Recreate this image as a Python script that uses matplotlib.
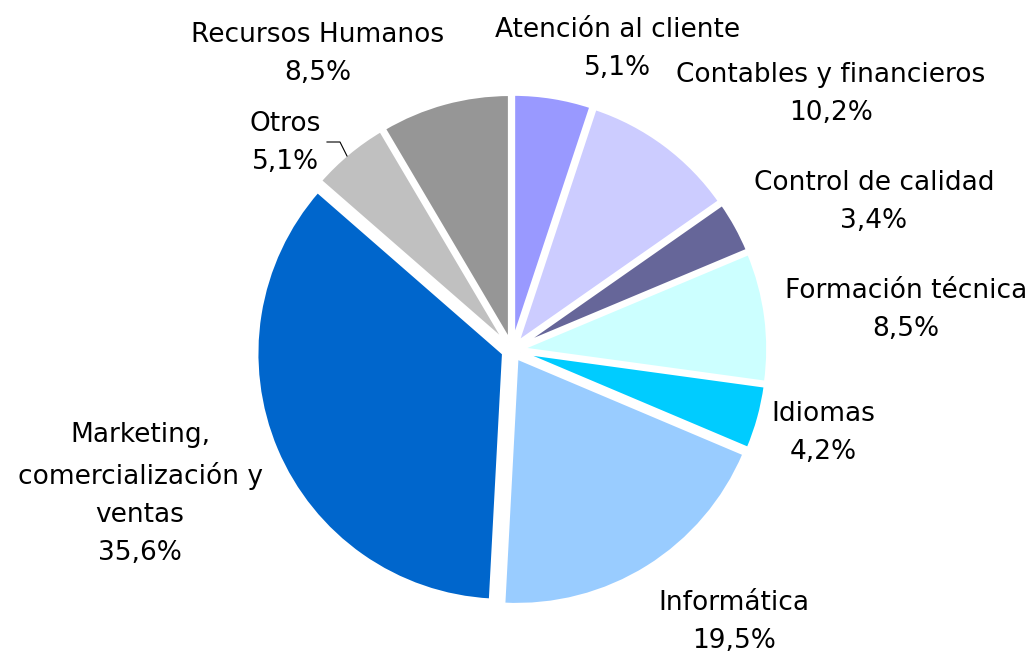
import matplotlib.pyplot as plt
import numpy as np

categorias = ["Atención al cliente", "Contables y financieros", "Control de calidad",
              "Formación técnica", "Idiomas", "Informática",
              "Marketing,\ncomercialización y\nventas", "Otros", "Recursos Humanos"]
porcentajes = [5.1, 10.2, 3.4, 8.5, 4.2, 19.5, 35.6, 5.1, 8.5]
colores = ["#9999FF", "#CCCCFF", "#666699", "#CCFFFF", "#00CCFF",
           "#99CCFF", "#0066CC", "#C0C0C0", "#969696"]

# label centres in screen pixels (x, y from top)
pos_etiquetas = [(618, 49), (831, 94), (874, 202), (906, 310), (823, 433),
                 (734, 622), (140, 494), (285, 143), (318, 54)]

W, H = 1036, 652
fig = plt.figure(figsize=(W / 100, H / 100), dpi=100)
ax = fig.add_axes([0, 0, 1, 1])

# explode is in data units (pixels here)
ax.pie(porcentajes, colors=colores, startangle=90, counterclock=False,
       center=(512, H - 350), radius=247, explode=[9] * len(porcentajes),
       wedgeprops=dict(edgecolor="white", linewidth=2.5), normalize=True)

for cat, v, (x, y) in zip(categorias, porcentajes, pos_etiquetas):
    txt = cat + "\n" + f"{v:.1f}".replace(".", ",") + "%"
    ax.text(x, H - y, txt, ha="center", va="center", fontsize=19,
            family="DejaVu Sans", linespacing=1.6, color="black")

# leader line for "Otros"
ax.plot([327, 340, 347], [H - 142, H - 142, H - 156], color="black", lw=0.8)

ax.set_xlim(0, W)
ax.set_ylim(0, H)
ax.set_aspect("equal")
ax.axis("off")

fig.savefig("out.png", dpi=100, facecolor="white")
